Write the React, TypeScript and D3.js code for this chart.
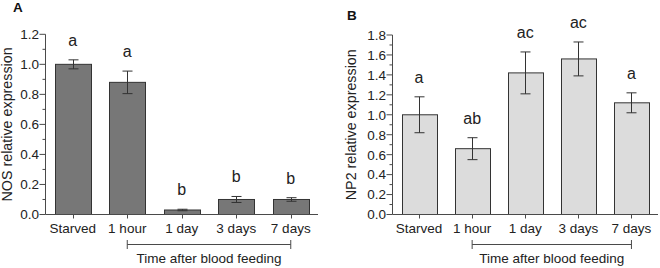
import React from "react";
import * as d3 from "d3";

const categories = ["Starved", "1 hour", "1 day", "3 days", "7 days"];
const nosMean = [1.0, 0.88, 0.03, 0.1, 0.1];
const nosErr = [0.03, 0.075, 0.005, 0.02, 0.012];
const nosLetters = ["a", "a", "b", "b", "b"];
const np2Mean = [1.0, 0.66, 1.42, 1.56, 1.12];
const np2Err = [0.18, 0.11, 0.21, 0.17, 0.1];
const np2Letters = ["a", "ab", "ac", "ac", "a"];
const nosTicks = [0, 0.2, 0.4, 0.6, 0.8, 1.0, 1.2];
const np2Ticks = [0, 0.2, 0.4, 0.6, 0.8, 1.0, 1.2, 1.4, 1.6, 1.8];
const bracketFrom = "1 hour";
const bracketTo = "7 days";
const bracketLabel = "Time after blood feeding";

const FONT = "'Liberation Sans', Arial, Helvetica, sans-serif";
const INK = "#222";
const AXIS = "#4a4a4a";

type PanelProps = {
  label: string;
  labelPos: [number, number];
  yTitle: string;
  yTitleX: number;
  means: number[];
  errs: number[];
  letters: string[];
  ticks: number[];
  fill: string;
  left: number;
  right: number;
  top: number;
  bottom: number;
};

function Panel(p: PanelProps) {
  const yMax = p.ticks[p.ticks.length - 1];
  const x = d3
    .scaleBand<string>()
    .domain(categories)
    .range([p.left, p.right])
    .paddingInner(0.34)
    .paddingOuter(0.17);
  const y = d3.scaleLinear().domain([0, yMax]).range([p.bottom, p.top]);
  const fmt = d3.format(".1f");
  const minor = d3
    .range(1, Math.round(yMax / 0.1))
    .map((i) => i * 0.1)
    .filter((v) => Math.abs(v / 0.2 - Math.round(v / 0.2)) > 1e-6);
  const bw = x.bandwidth();
  const cx = (c: string) => (x(c) as number) + bw / 2;
  const capW = 10;
  const bx1 = cx(bracketFrom);
  const bx2 = cx(bracketTo);
  const bracketY = 244.5;
  return (
    <g>
      <text x={p.labelPos[0]} y={p.labelPos[1]} fontFamily={FONT} fontSize={13.5} fontWeight="bold" fill="#111">
        {p.label}
      </text>
      <text
        transform={`translate(${p.yTitleX},${(p.top + p.bottom) / 2}) rotate(-90)`}
        textAnchor="middle"
        fontFamily={FONT}
        fontSize={14.3}
        fill={INK}
      >
        {p.yTitle}
      </text>
      {categories.map((c, i) => {
        const yt = y(p.means[i]);
        const e1 = y(p.means[i] + p.errs[i]);
        const e2 = y(Math.max(0, p.means[i] - p.errs[i]));
        const xc = Math.round(cx(c)) + 0.5;
        return (
          <g key={c}>
            <rect
              x={Math.round(x(c) as number) + 0.5}
              y={yt}
              width={Math.round(bw)}
              height={p.bottom - yt}
              fill={p.fill}
              stroke="#333"
              strokeWidth={1}
            />
            <line x1={xc} x2={xc} y1={e1} y2={e2} stroke="#333" strokeWidth={1} />
            <line x1={xc - capW / 2} x2={xc + capW / 2} y1={e1} y2={e1} stroke="#333" strokeWidth={1} />
            <line x1={xc - capW / 2} x2={xc + capW / 2} y1={e2} y2={e2} stroke="#333" strokeWidth={1} />
            <text x={cx(c)} y={e1 - 14} textAnchor="middle" fontFamily={FONT} fontSize={16} fill={INK}>
              {p.letters[i]}
            </text>
            <line x1={xc} x2={xc} y1={p.bottom} y2={p.bottom + 4} stroke={AXIS} strokeWidth={1} />
            <text x={cx(c)} y={233} textAnchor="middle" fontFamily={FONT} fontSize={13.5} fill={INK}>
              {c}
            </text>
          </g>
        );
      })}
      <line x1={p.left} x2={p.left} y1={p.top} y2={p.bottom} stroke={AXIS} strokeWidth={1} />
      <line x1={p.left} x2={p.right} y1={p.bottom} y2={p.bottom} stroke={AXIS} strokeWidth={1} />
      {p.ticks.map((t) => (
        <g key={t}>
          <line x1={p.left - 6} x2={p.left} y1={y(t)} y2={y(t)} stroke={AXIS} strokeWidth={1} />
          <text x={p.left - 6.5} y={y(t)} dy="0.36em" textAnchor="end" fontFamily={FONT} fontSize={13.5} fill={INK}>
            {fmt(t)}
          </text>
        </g>
      ))}
      {minor.map((t) => (
        <line key={t} x1={p.left - 3} x2={p.left} y1={y(t)} y2={y(t)} stroke={AXIS} strokeWidth={1} />
      ))}
      <line x1={bx1} x2={bx2} y1={bracketY} y2={bracketY} stroke={AXIS} strokeWidth={1} />
      <line x1={bx1} x2={bx1} y1={bracketY - 4.5} y2={bracketY + 4.5} stroke={AXIS} strokeWidth={1} />
      <line x1={bx2} x2={bx2} y1={bracketY - 4.5} y2={bracketY + 4.5} stroke={AXIS} strokeWidth={1} />
      <text x={(bx1 + bx2) / 2} y={263} textAnchor="middle" fontFamily={FONT} fontSize={13.5} fill={INK}>
        {bracketLabel}
      </text>
    </g>
  );
}

export default function App() {
  return (
    <svg
      width={660}
      height={268}
      viewBox="0 0 660 268"
      style={{ position: "absolute", left: 0, top: 0, background: "#fff" }}
    >
      <rect width={660} height={268} fill="#fff" />
      <Panel
        label="A"
        labelPos={[13, 12]}
        yTitle="NOS relative expression"
        yTitleX={12}
        means={nosMean}
        errs={nosErr}
        letters={nosLetters}
        ticks={nosTicks}
        fill="#777777"
        left={45.5}
        right={318}
        top={34.3}
        bottom={214.5}
      />
      <Panel
        label="B"
        labelPos={[347, 19.5]}
        yTitle="NP2 relative expression"
        yTitleX={356}
        means={np2Mean}
        errs={np2Err}
        letters={np2Letters}
        ticks={np2Ticks}
        fill="#dcdcdc"
        left={392.5}
        right={658}
        top={35}
        bottom={214.5}
      />
    </svg>
  );
}
